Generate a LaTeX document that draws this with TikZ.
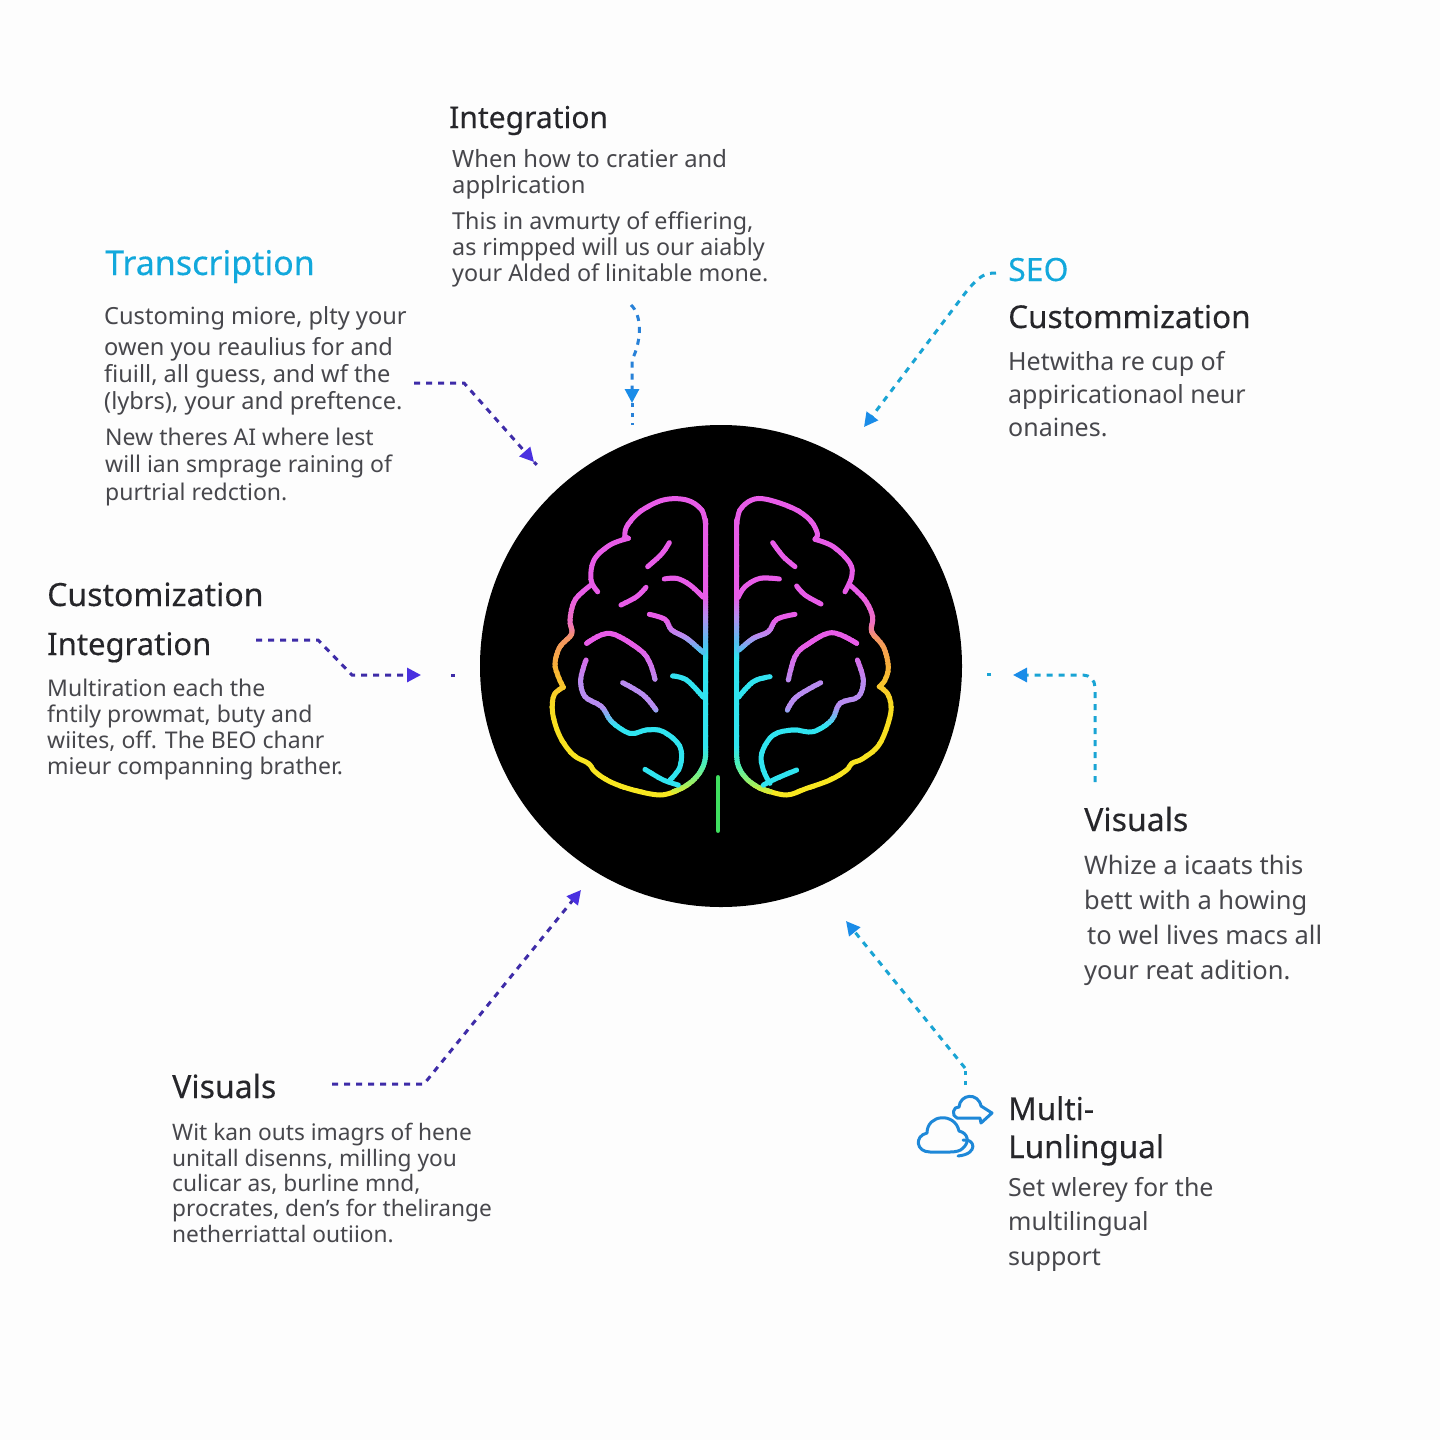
\documentclass[tikz,border=0pt]{standalone}
\usepackage{fontspec}
\usetikzlibrary{arrows.meta}
\setmainfont{Noto Sans}
\newfontfamily\headfont[FakeBold=0.25]{Noto Sans}
\definecolor{paper}{HTML}{FDFDFD}
\definecolor{inkdark}{HTML}{26262A}
\definecolor{inkbody}{HTML}{47474C}
\definecolor{inkcyan}{HTML}{12A8DC}
\definecolor{dashviolet}{HTML}{3E2CA8}
\definecolor{tipviolet}{HTML}{4A30E0}
\definecolor{dashcyan}{HTML}{1AA4D4}
\definecolor{tipblue}{HTML}{1A8CE8}
\definecolor{cloudblue}{HTML}{1E88D8}
\definecolor{neonmag}{HTML}{E85CE8}
\definecolor{neonpink}{HTML}{F070C0}
\definecolor{neonorange}{HTML}{F59860}
\definecolor{neonamber}{HTML}{F8B038}
\definecolor{neongold}{HTML}{F8DC20}
\definecolor{neonyellow}{HTML}{F8E820}
\definecolor{neonviolet}{HTML}{B88CF0}
\definecolor{neonsky}{HTML}{50C0F0}
\definecolor{neoncyan}{HTML}{30E4F0}
\definecolor{neonmint}{HTML}{50F0B0}
\definecolor{neonlime}{HTML}{A0F060}
\definecolor{neongreen}{HTML}{40E060}

% strokes #2 in thin horizontal bands, colours from the stops in #1
\newcommand{\rampstroke}[2]{%
	\foreach \ya/\yb/\ca/\cb in {#1}{
		\foreach \k in {0,...,7}{
			\pgfmathsetmacro\yc{\ya+(\yb-\ya)*\k/8}
			\pgfmathsetmacro\yd{\ya+(\yb-\ya)*(\k+1)/8+2}
			\pgfmathsetmacro\pct{12.5*\k+6}
			\colorlet{bandcol}{\cb!\pct!\ca}
			\begin{scope}
				\clip (0,\yc) rectangle (1140,\yd);
				#2
			\end{scope}
		}
	}
}
\newcommand{\brainrim}{%
	\draw[neon] plot[smooth,tension=.6] coordinates {(527,135) (515,90) (470,60) (400,60) (330,95) (290,140) (285,170)};
	\draw[neon] (295,175) -- (285,170);
	\draw[neon] plot[smooth,tension=.6] coordinates {(295,175) (240,195) (192,240) (183,300) (203,335)};
	\draw[neon] plot[smooth,tension=.6] coordinates {(183,315) (135,360) (120,420) (125,462) (90,500) (75,550) (85,590) (100,622)};
	\draw[neon] plot[smooth,tension=.6] coordinates {(100,622) (72,645) (68,700) (90,770) (130,825) (175,850) (195,875) (240,905) (310,930) (390,945) (440,932)};
	\draw[neon] plot[smooth,tension=.6] coordinates {(620,135) (630,90) (665,60) (710,58) (790,85) (840,120) (862,160) (855,178)};
	\draw[neon] plot[smooth,tension=.6] coordinates {(855,178) (910,200) (960,250) (965,290) (945,335)};
	\draw[neon] plot[smooth,tension=.6] coordinates {(960,315) (1005,360) (1028,410) (1025,455) (1060,500) (1075,560) (1065,600) (1048,620)};
	\draw[neon] plot[smooth,tension=.6] coordinates {(1048,620) (1075,645) (1082,700) (1050,790) (1000,835) (965,850) (950,870) (900,900) (830,925) (770,945) (705,930)};
}
\newcommand{\brainstem}{%
	\draw[neon] (527,120) -- (527,820) .. controls (527,870) and (490,915) .. (430,935);
	\draw[neon] (620,120) -- (620,830) .. controls (620,875) and (660,920) .. (720,935);
}
\newcommand{\brainbranch}{%
	\draw[neon] plot[smooth,tension=.6] coordinates {(403,297) (440,295) (480,315) (520,352)};
	\draw[neon] plot[smooth,tension=.6] coordinates {(358,403) (405,418) (425,450) (470,475) (520,518)};
	\draw[neon] plot[smooth,tension=.6] coordinates {(428,588) (470,600) (520,652)};
	\draw[neon] plot[smooth,tension=.6] coordinates {(748,297) (690,295) (645,320) (625,352)};
	\draw[neon] plot[smooth,tension=.6] coordinates {(795,403) (740,418) (715,455) (670,475) (627,510)};
	\draw[neon] plot[smooth,tension=.6] coordinates {(720,590) (670,605) (625,652)};
	\draw[neon] plot[smooth,tension=.6] coordinates {(418,188) (395,222) (353,260)};
	\draw[neon] plot[smooth,tension=.6] coordinates {(348,322) (320,350) (273,375)};
	\draw[neon] plot[smooth,tension=.6] coordinates {(728,188) (760,230) (795,260)};
	\draw[neon] plot[smooth,tension=.6] coordinates {(800,318) (825,345) (873,372)};
}
\newcommand{\brainfold}{%
	\draw[neon] plot[smooth,tension=.6] coordinates {(170,490) (240,460) (330,510) (360,550) (375,598)};
	\draw[neon] plot[smooth,tension=.6] coordinates {(278,608) (340,645) (378,690)};
	\draw[neon] plot[smooth,tension=.6] coordinates {(168,540) (152,600) (165,650) (215,680) (245,725) (300,760) (350,750) (400,755) (450,800) (450,860) (420,900)};
	\draw[neon] plot[smooth,tension=.6] coordinates {(345,868) (400,900) (445,915)};
	\draw[neon] plot[smooth,tension=.6] coordinates {(980,490) (905,458) (830,495) (795,530) (775,600)};
	\draw[neon] plot[smooth,tension=.6] coordinates {(872,608) (800,650) (772,690)};
	\draw[neon] plot[smooth,tension=.6] coordinates {(982,540) (1000,600) (985,650) (930,670) (905,720) (850,755) (790,750) (730,765) (695,820) (700,870) (720,910)};
	\draw[neon] plot[smooth,tension=.6] coordinates {(800,870) (740,895) (700,915)};
}

\begin{document}
\begin{tikzpicture}
	[x=1pt,y=-1pt,
	neon/.style={draw=bandcol,line width=5pt,line cap=round,line join=round},
	head/.style={anchor=base west,inner sep=0pt,text=inkdark,font=\headfont\fontsize{#1}{#1}\selectfont},
	headcyan/.style={head=#1,text=inkcyan},
	blurb/.style 2 args={anchor=base west,inner sep=0pt,align=left,text=inkbody,font=\fontsize{#1}{#2}\selectfont},
	linkviolet/.style={draw=dashviolet,line width=3pt,dash pattern=on 6pt off 6pt,-{Triangle[color=tipviolet,length=14pt,width=14pt]}},
	linkcyan/.style={draw=dashcyan,line width=3pt,dash pattern=on 6pt off 6pt,-{Triangle[color=tipblue,length=14pt,width=14pt]}},
	tailviolet/.style={draw=dashviolet,line width=3pt,dash pattern=on 4pt off 6pt},
	tailcyan/.style={draw=dashcyan,line width=3pt,dash pattern=on 4pt off 6pt},
	cloud line/.style={draw=cloudblue,line width=3pt,line cap=round,line join=round}]

	\fill[paper] (0,0) rectangle (1440,1440);
	\node[circle,fill=black,minimum size=482pt,inner sep=0pt] (disc) at (721,666) {};

	% brain, in the units of the 3x crop
	\begin{scope}[xshift=530pt,yshift=-480pt,x=0.33333pt,y=-0.33333pt]
		\rampstroke{0/340/neonmag/neonmag,340/430/neonmag/neonpink,430/480/neonpink/neonorange,480/560/neonorange/neonamber,560/680/neonamber/neongold,680/960/neongold/neonyellow}{\brainrim}
		\rampstroke{100/350/neonmag/neonmag,350/410/neonmag/neonviolet,410/490/neonviolet/neonsky,490/540/neonsky/neoncyan,540/800/neoncyan/neoncyan,800/860/neoncyan/neonmint,860/915/neonmint/neonlime,915/950/neonlime/neonyellow}{\brainstem}
		\rampstroke{180/420/neonmag/neonmag,420/470/neonmag/neonviolet,470/515/neonviolet/neonsky,515/600/neonsky/neoncyan,600/660/neoncyan/neoncyan}{\brainbranch}
		\rampstroke{450/500/neonmag/neonmag,500/610/neonmag/neonviolet,610/680/neonviolet/neonviolet,680/740/neonviolet/neoncyan,740/950/neoncyan/neoncyan}{\brainfold}
		\draw[draw=neongreen,line width=4.6pt,line cap=round] (564,892) -- (564,1052);
	\end{scope}

	\node[headcyan=34] (transcription) at (105,275) {Transcription};
	\node[blurb={23.6}{27}] (transcriptiontext) at (104,409) {Customing miore, plty your\\[4pt]owen you reaulius for and\\fiuill, all guess, and wf the\\(lybrs), your and preftence.};
	\node[blurb={23}{27.5}] (transcriptionmore) at (105,500) {New theres AI where lest\\will ian smprage raining of\\purtrial redction.};

	\node[head=30] (integration) at (449,128) {Integration};
	\node[blurb={23.8}{26}] (integrationtext) at (452,193) {When how to cratier and\\applrication};
	\node[blurb={23.3}{26}] (integrationmore) at (452,281) {This in avmurty of effiering,\\as rimpped will us our aiably\\your Alded of linitable mone.};

	\node[headcyan=32] (seo) at (1008,281) {SEO};
	\node[head=31.5] (custom) at (1008,328) {Custommization};
	\node[blurb={25}{33}] (customtext) at (1008,436) {Hetwitha re cup of\\appiricationaol neur\\onaines.};

	\node[head=32] (customleft) at (47,606) {Customization};
	\node[head=31] (integrationleft) at (47,655) {Integration};
	\node[blurb={23}{26}] (integrationlefttext) at (47,774) {Multiration each the\\fntily prowmat, buty and\\wiites, off. The BEO chanr\\mieur companning brather.};

	\node[head=32] (visualsright) at (1084,831) {Visuals};
	\node[blurb={25.5}{35}] (visualstext) at (1084,979) {Whize a icaats this\\bett with a howing\\\hspace{3pt}to wel lives macs all\\your reat adition.};

	\node[head=32] (visualsleft) at (172,1098) {Visuals};
	\node[blurb={22.7}{25.3}] (visualslefttext) at (172,1242) {Wit kan outs imagrs of hene\\unitall disenns, milling you\\culicar as, burline mnd,\\procrates, den's for thelirange\\netherriattal outiion.};

	\node[head=31.5] (multi) at (1008,1120) {Multi-};
	\node[head=31.5] (lunlingual) at (1008,1158) {Lunlingual};
	\node[blurb={25}{34.5}] (multitext) at (1008,1265) {Set wlerey for the\\multilingual\\support};

	% connector ends
	\coordinate (a1) at (414,383);
	\coordinate (a2) at (464,383);
	\coordinate (a3) at (534,462);
	\coordinate (a4) at (540,468);
	\coordinate (b1) at (631,305);
	\coordinate (b2) at (632,403);
	\coordinate (b3) at (632,425);
	\coordinate (c1) at (996,273);
	\coordinate (c2) at (864,427);
	\coordinate (d1) at (256,640);
	\coordinate (d2) at (318,640);
	\coordinate (d3) at (352,675);
	\coordinate (d4) at (421,675);
	\coordinate (d5) at (451,675);
	\coordinate (d6) at (455,675);
	\coordinate (e1) at (1095,782);
	\coordinate (e2) at (1095,675);
	\coordinate (e3) at (1013,675);
	\coordinate (e4) at (991,674);
	\coordinate (e5) at (985,674);
	\coordinate (f1) at (332,1084);
	\coordinate (f2) at (424,1084);
	\coordinate (f3) at (581,890);
	\coordinate (g1) at (965,1085);
	\coordinate (g2) at (965,1068);
	\coordinate (g3) at (846,921);

	\draw[linkviolet] (a1) -- (a2) -- (a3);
	\draw[tailviolet] (a3) -- (a4);
	\draw[linkcyan,draw=dashcyan!70!tipviolet] (b1) .. controls (642,315) and (642,340) .. (632,360) -- (b2);
	\draw[tailcyan,draw=dashcyan!70!tipviolet] (b2) -- (b3);
	\draw[linkcyan] (c1) .. controls (985,273) and (980,275) .. (966,292) -- (c2);
	\draw[linkviolet] (d1) -- (d2) -- (d3) -- (d4);
	\draw[tailviolet] (d5) -- (d6);
	\draw[linkcyan,rounded corners=12pt] (e1) -- (e2) -- (e3);
	\draw[tailcyan] (e4) -- (e5);
	\draw[linkviolet] (f1) -- (f2) -- (f3);
	\draw[linkcyan] (g2) -- (g3);
	\draw[tailcyan] (g1) -- (g2);

	% clouds
	\draw[cloud line] (957,1118) .. controls (951,1116) and (953,1106) .. (959,1107)
		.. controls (960,1094) and (978,1092) .. (981,1106) -- (992,1113) -- (981,1123) -- (980,1118) -- cycle;
	\draw[cloud line] (930,1152) .. controls (916,1152) and (914,1136) .. (927,1133)
		.. controls (927,1114) and (955,1112) .. (959,1131)
		.. controls (968,1133) and (970,1142) .. (963,1148) .. controls (961,1151) and (955,1152) .. (950,1152) -- cycle;
	\draw[cloud line] (963,1140) .. controls (975,1138) and (979,1154) .. (958,1156);
\end{tikzpicture}
\end{document}
